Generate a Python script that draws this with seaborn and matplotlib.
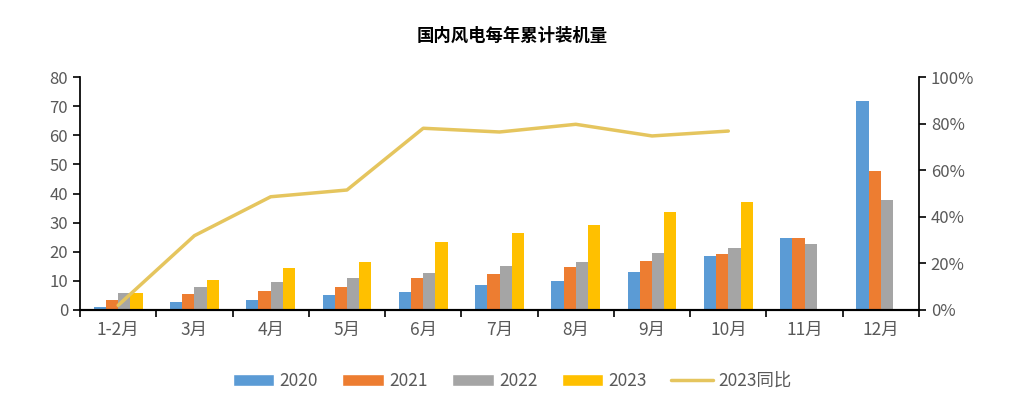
import numpy as np
import pandas as pd
import matplotlib
matplotlib.use("Agg")
import matplotlib.pyplot as plt
import seaborn as sns
from matplotlib.patches import Patch
from matplotlib.lines import Line2D

sns.set_theme(style="white")
plt.rcParams['font.family'] = ['Noto Sans CJK SC', 'DejaVu Sans']

months = ["1-2月", "3月", "4月", "5月", "6月", "7月", "8月", "9月", "10月", "11月", "12月"]
years = ["2020", "2021", "2022", "2023"]
v2020 = [0.9, 2.6, 3.4, 5.0, 6.3, 8.5, 10.1, 13.2, 18.5, 24.7, 71.8]
v2021 = [3.4, 5.4, 6.5, 7.9, 11.0, 12.5, 14.8, 16.7, 19.2, 24.7, 47.7]
v2022 = [5.7, 7.9, 9.7, 11.0, 12.8, 15.1, 16.4, 19.5, 21.3, 22.7, 37.7]
v2023 = [6.0, 10.3, 14.4, 16.4, 23.2, 26.3, 29.2, 33.5, 37.2, np.nan, np.nan]
yoy2023 = [2.0, 31.9, 48.6, 51.5, 78.0, 76.4, 79.7, 74.7, 76.8]

colors = ["#5B9BD5", "#ED7D31", "#A5A5A5", "#FFC000"]
line_color = "#E5C55E"
text_color = "#595959"

rows = []
for y, vals in zip(years, [v2020, v2021, v2022, v2023]):
    for m, v in zip(months, vals):
        rows.append({"month": m, "year": y, "value": v})
df = pd.DataFrame(rows)

fig = plt.figure(figsize=(10.24, 4.07), dpi=100)
ax = fig.add_axes([80 / 1024, 1 - 310 / 407, 839 / 1024, 233 / 407])

sns.barplot(data=df, x="month", y="value", hue="year", order=months, hue_order=years,
            palette=colors, saturation=1, width=0.64, linewidth=0, ax=ax)
ax.get_legend().remove()
ax.set_ylim(0, 80)
ax.set_yticks(range(0, 81, 10))
ax.set_xlim(-0.5, len(months) - 0.5)
ax.set_xlabel("")
ax.set_ylabel("")

ax2 = ax.twinx()
line_df = pd.DataFrame({"x": np.arange(len(yoy2023)), "yoy": yoy2023})
sns.lineplot(data=line_df, x="x", y="yoy", color=line_color, linewidth=2.5, ax=ax2)
ax2.set_ylim(0, 100)
ax2.set_yticks(range(0, 101, 20))
ax2.set_yticklabels([f"{t}%" for t in range(0, 101, 20)])
ax2.set_ylabel("")

# category boundaries as ticks on the x axis
ax.set_xticks(np.arange(len(months)))
ax.set_xticklabels(months)
ax.set_xticks(np.arange(-0.5, len(months) + 0.5, 1), minor=True)
ax.tick_params(axis="x", which="major", length=0, labelsize=12.5, colors=text_color, pad=8)
ax.tick_params(axis="x", which="minor", length=5, width=1.2, color="black", bottom=True)
ax.tick_params(axis="y", left=True, length=5, width=1.2, color="black", labelsize=12, labelcolor=text_color)
ax2.tick_params(axis="y", right=True, length=5, width=1.2, color="black", labelsize=12, labelcolor=text_color)

for a in (ax, ax2):
    a.spines["top"].set_visible(False)
    a.spines["left"].set_color("black")
    a.spines["right"].set_color("black")
    a.spines["bottom"].set_color("black")
    a.spines["bottom"].set_linewidth(1.5)
ax.spines["right"].set_visible(False)
ax2.spines["left"].set_visible(False)

fig.text(0.5, 1 - 36 / 407, "国内风电每年累计装机量", ha="center", va="center",
         fontsize=12.5, fontweight="bold", color="black")

handles = [Patch(facecolor=c, label=y) for c, y in zip(colors, years)]
handles.append(Line2D([0], [0], color=line_color, linewidth=2.5, label="2023同比"))
leg = fig.legend(handles=handles, loc="center", bbox_to_anchor=(0.5, 1 - 381 / 407), ncol=5,
                 frameon=False, fontsize=12.5, handlelength=2.4, handleheight=0.7,
                 columnspacing=1.4, handletextpad=0.3)
for t in leg.get_texts():
    t.set_color(text_color)

fig.savefig("out.png", dpi=100)
